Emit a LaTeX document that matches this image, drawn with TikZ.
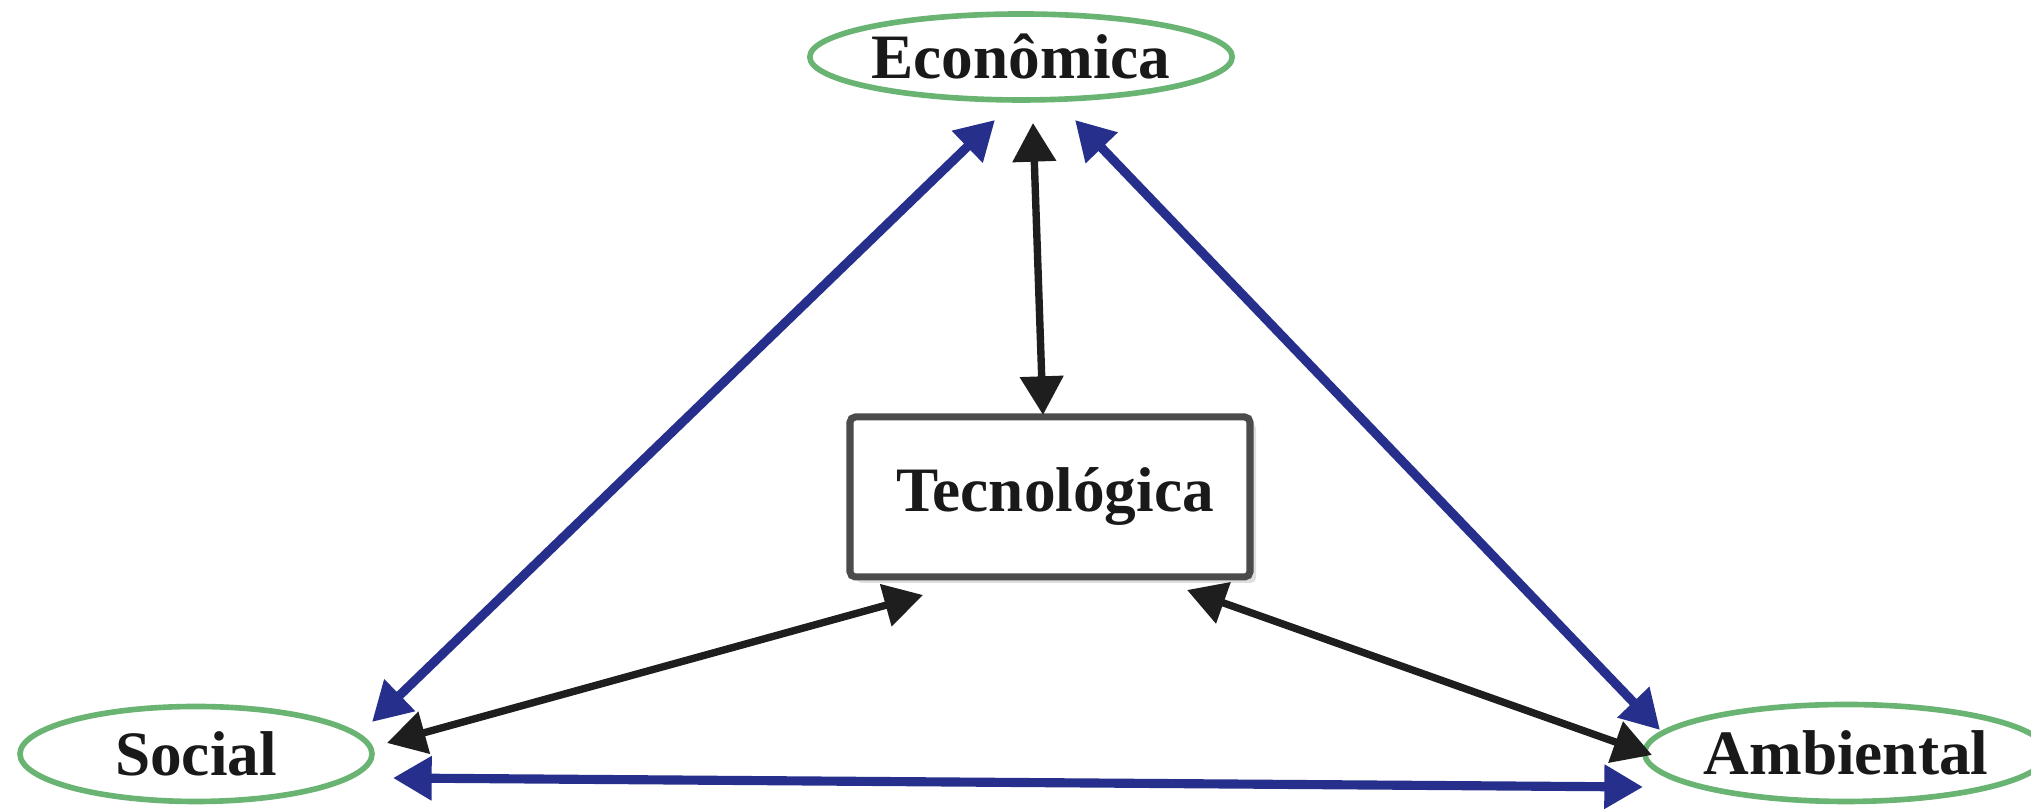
\documentclass[tikz,border=0pt]{standalone}
\usepackage{fontspec}
\setmainfont{Liberation Serif}
\usetikzlibrary{arrows.meta,shapes.geometric,shadows}
\definecolor{ellgreen}{RGB}{105,180,115}
\definecolor{arrblue}{RGB}{38,48,140}
\definecolor{arrblack}{RGB}{30,30,30}
\definecolor{boxgray}{RGB}{75,75,75}
\begin{document}
\begin{tikzpicture}[
  lbl/.style={font=\bfseries\fontsize{18}{20}\selectfont, text=black!90},
  ell/.style={ellipse, draw=ellgreen, line width=1.6pt, inner sep=0pt, lbl},
  tecbox/.style={rectangle, draw=boxgray, line width=2pt, rounded corners=1.5pt,
    fill=white, minimum width=4cm, minimum height=1.6cm, lbl,
    drop shadow={shadow xshift=0.06cm, shadow yshift=-0.06cm, opacity=0.25}},
  bluearr/.style={draw=arrblue, line width=2.6pt,
    {Triangle[length=11pt,width=12pt]}-{Triangle[length=11pt,width=12pt]}},
  blackarr/.style={draw=arrblack, line width=2.1pt,
    {Triangle[length=11pt,width=12pt]}-{Triangle[length=11pt,width=12pt]}}
]
\useasboundingbox (0,0) rectangle (20.31,8.09);
\fill[white] (0,0) rectangle (20.31,8.09);

\node[ell, minimum width=3.76cm, minimum height=0.86cm] (econ) at (10.21,7.52) {Econômica};
\node[ell, minimum width=3.52cm, minimum height=0.95cm] (social) at (1.96,0.55) {Social};
\node[ell, minimum width=3.58cm, minimum height=0.97cm] (amb) at (18.46,0.56) {Ambiental};
\node[tecbox] (tec) at (10.50,3.12) {\hspace*{0.1cm}Tecnológica};

% arrow end points (gaps as in the reference)
\coordinate (esA) at (9.95,6.89);
\coordinate (esB) at (3.72,0.87);
\coordinate (etA) at (10.33,6.86);
\coordinate (etB) at (10.43,3.94);
\coordinate (eaA) at (10.75,6.89);
\coordinate (eaB) at (16.60,0.79);
\coordinate (stA) at (3.87,0.66);
\coordinate (stB) at (9.23,2.14);
\coordinate (atA) at (16.52,0.54);
\coordinate (atB) at (11.87,2.19);
\coordinate (saA) at (3.93,0.31);
\coordinate (saB) at (16.43,0.22);

\draw[bluearr] (esA) -- (esB);
\draw[bluearr] (eaA) -- (eaB);
\draw[bluearr] (saA) -- (saB);
\draw[blackarr] (etA) -- (etB);
\draw[blackarr] (stA) -- (stB);
\draw[blackarr] (atA) -- (atB);
\end{tikzpicture}
\end{document}
